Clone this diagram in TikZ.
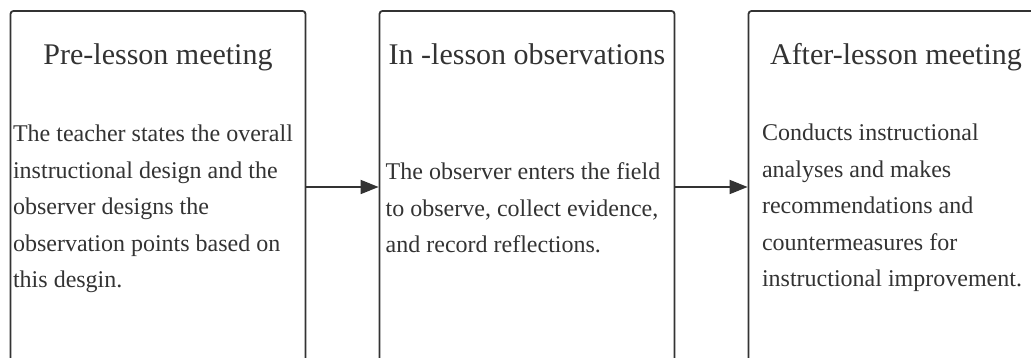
\documentclass[tikz,border=0pt]{standalone}
\usepackage{fontspec}
\setmainfont{Liberation Serif}
\usepackage{xcolor}
\usetikzlibrary{arrows.meta, calc}
\definecolor{inkgray}{HTML}{333333}

\begin{document}
\begin{tikzpicture}[x=1pt, y=-1pt, >={Triangle[length=18pt, width=14pt]}, every node/.style={text=inkgray}]
  \clip (0,0) rectangle (1031,358);
  \tikzset{stage/.style={draw=inkgray, line width=1.8pt, rounded corners=3pt, minimum width=295pt, minimum height=400pt, inner sep=0pt},
           heading/.style={font=\fontsize{30}{36}\selectfont, anchor=base, inner sep=0pt},
           body/.style={font=\fontsize{24}{36.5}\selectfont, align=left, inner sep=0pt},
           link/.style={->, draw=inkgray, line width=1.8pt}}
  \node[stage] (pre) at (158,211) {};
  \node[stage] (inl) at (527,211) {};
  \node[stage] (aft) at (896,211) {};
  \node[heading] (preT) at ($(pre.north)+(0,54)$) {Pre-lesson meeting};
  \node[heading] (inlT) at ($(inl.north)+(0,54)$) {In -lesson observations};
  \node[heading] (aftT) at ($(aft.north)+(0,54)$) {After-lesson meeting};
  \node[body] (preB) at ($(pre.center)+(-5,-2)$) {The teacher states the overall\\instructional design and the\\observer designs the\\observation points based on\\this desgin.};
  \node[body] (inlB) at ($(inl.center)+(-4,-3)$) {The observer enters the field\\to observe, collect evidence,\\and record reflections.};
  \node[body] (aftB) at ($(aft.center)+(-4,-3)$) {Conducts instructional\\analyses and makes\\recommendations and\\countermeasures for\\instructional improvement.};
  \draw[link] ($(pre.east)+(0,-24)$) -- ($(inl.west)+(0,-24)$);
  \draw[link] ($(inl.east)+(0,-24)$) -- ($(aft.west)+(0,-24)$);
\end{tikzpicture}
\end{document}
